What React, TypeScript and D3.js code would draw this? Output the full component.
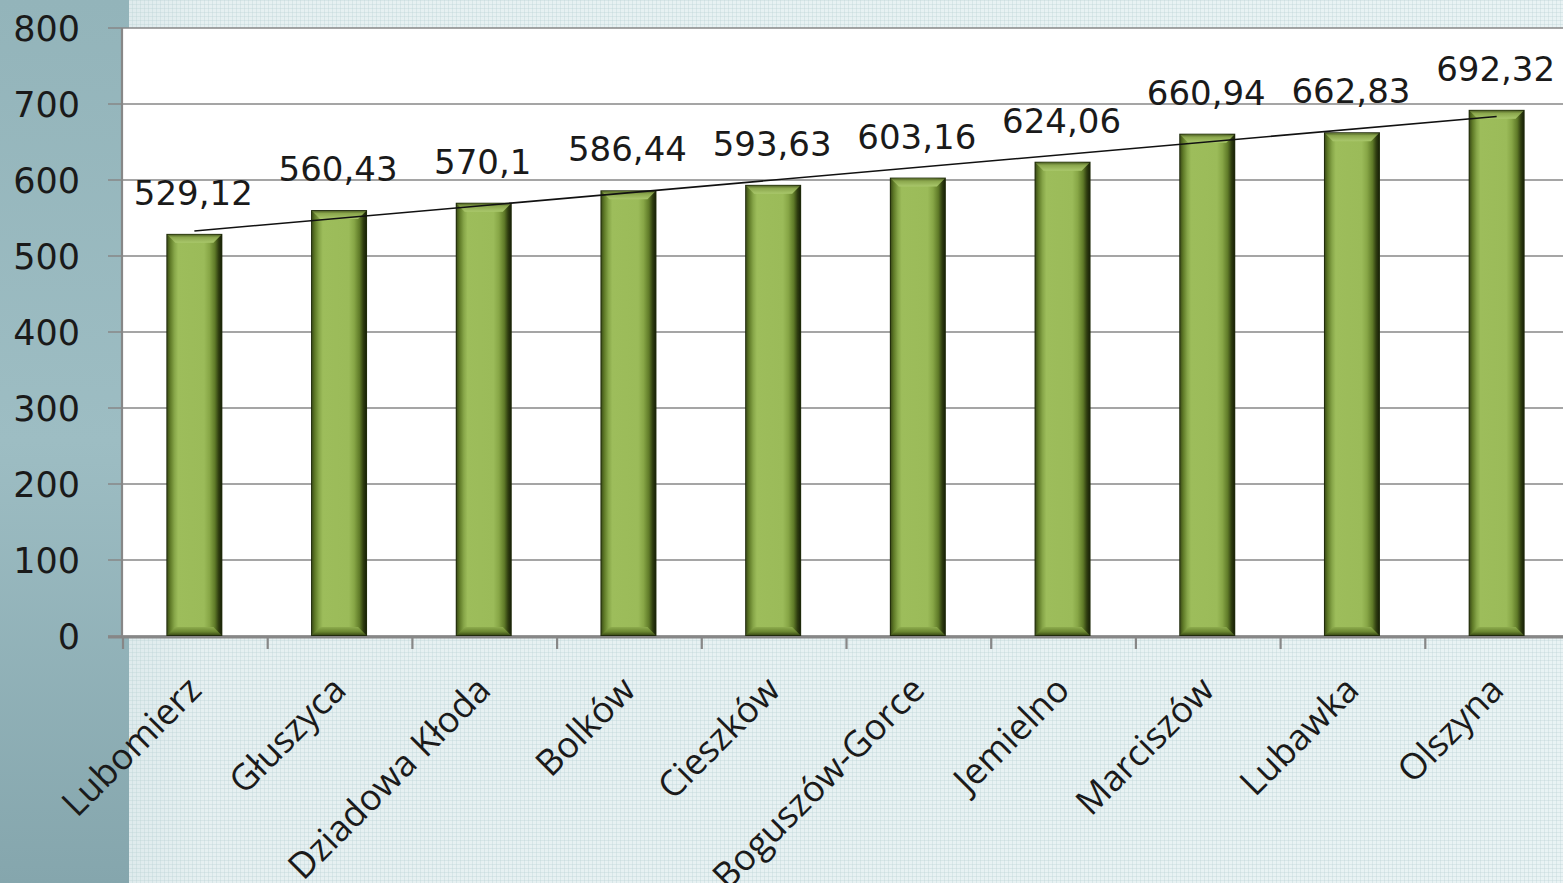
import React from "react";
import * as d3 from "d3";

const categories = ["Lubomierz", "Głuszyca", "Dziadowa Kłoda", "Bolków", "Cieszków", "Boguszów-Gorce", "Jemielno", "Marciszów", "Lubawka", "Olszyna"];
const values = [529.12, 560.43, 570.1, 586.44, 593.63, 603.16, 624.06, 660.94, 662.83, 692.32];
const valueLabels = ["529,12", "560,43", "570,1", "586,44", "593,63", "603,16", "624,06", "660,94", "662,83", "692,32"];
const yTicks = [0, 100, 200, 300, 400, 500, 600, 700, 800];

const W = 1563;
const H = 883;
const PL = 122, PR = 1569, PT = 28, PB = 636;

export default function App() {
  const x = d3.scaleBand<string>().domain(categories).range([PL, PR]).paddingInner(0.613).paddingOuter(0.3065);
  const y = d3.scaleLinear().domain([0, 800]).range([PB, PT]);
  const bw = x.bandwidth();

  // linear trend (least squares)
  const n = values.length;
  const idx = values.map((_, i) => i + 1);
  const mx = d3.mean(idx) as number;
  const my = d3.mean(values) as number;
  const slope = d3.sum(idx.map((v, i) => (v - mx) * (values[i] - my))) / d3.sum(idx.map(v => (v - mx) ** 2));
  const icpt = my - slope * mx;
  const trendPts: [number, number][] = [1, n].map(i => [
    (x(categories[i - 1]) as number) + bw / 2,
    y(icpt + slope * i),
  ]);
  const line = d3.line();

  const grid = "#878787";
  const b = 9;

  return (
    <svg width={W} height={H} style={{ position: "absolute", left: 0, top: 0, display: "block" }}>
      <defs>
        <linearGradient id="bgH" x1="0" x2="1" y1="0" y2="0">
          <stop offset="0" stopColor="#bdd4d8" />
          <stop offset="0.03" stopColor="#c9dde0" />
          <stop offset="0.065" stopColor="#dce9eb" />
          <stop offset="0.13" stopColor="#e6f0f1" />
          <stop offset="1" stopColor="#e9f3f4" />
        </linearGradient>
        <linearGradient id="leftV" x1="0" x2="0" y1="0" y2="1">
          <stop offset="0" stopColor="#93b4ba" />
          <stop offset="0.5" stopColor="#9dbdc3" />
          <stop offset="1" stopColor="#85a6ad" />
        </linearGradient>
        <pattern id="tex" width="4" height="4" patternUnits="userSpaceOnUse">
          <rect x="0" y="0" width="4" height="1" fill="#b9d0d4" opacity="0.35" />
          <rect x="0" y="0" width="1" height="4" fill="#b9d0d4" opacity="0.35" />
        </pattern>
        <linearGradient id="barH" x1="0" x2="1" y1="0" y2="0">
          <stop offset="0" stopColor="#3e4f19" />
          <stop offset="0.05" stopColor="#5d7826" />
          <stop offset="0.13" stopColor="#86a548" />
          <stop offset="0.2" stopColor="#9dbd5b" />
          <stop offset="0.68" stopColor="#9bbb59" />
          <stop offset="0.78" stopColor="#87a646" />
          <stop offset="0.88" stopColor="#5f7a28" />
          <stop offset="0.95" stopColor="#2f3d10" />
          <stop offset="1" stopColor="#1a2308" />
        </linearGradient>
        <linearGradient id="barTop" x1="0" x2="0" y1="0" y2="1">
          <stop offset="0" stopColor="#55682a" />
          <stop offset="0.3" stopColor="#8aa64c" />
          <stop offset="1" stopColor="#aac86c" />
        </linearGradient>
        <linearGradient id="barBot" x1="0" x2="0" y1="0" y2="1">
          <stop offset="0" stopColor="#8eac4e" />
          <stop offset="0.6" stopColor="#6a8630" />
          <stop offset="1" stopColor="#3f5018" />
        </linearGradient>
      </defs>

      {/* background */}
      <rect x={0} y={0} width={W} height={H} fill="url(#bgH)" />
      <rect x={128} y={0} width={W - 128} height={H} fill="url(#tex)" />
      <rect x={0} y={0} width={129} height={H} fill="url(#leftV)" />

      {/* plot area */}
      <rect x={PL} y={PT} width={W - PL} height={PB - PT} fill="#ffffff" />

      {/* gridlines */}
      {yTicks.map(t => (
        <line key={t} x1={PL - 14} x2={W} y1={y(t)} y2={y(t)} stroke={grid} strokeWidth={1.6} />
      ))}
      {/* axes */}
      <line x1={PL} x2={PL} y1={PT} y2={PB + 2} stroke={grid} strokeWidth={2.2} />
      <line x1={PL - 14} x2={W} y1={PB + 1} y2={PB + 1} stroke={grid} strokeWidth={3} />
      {categories.map((c, i) => (
        <line key={c} x1={PL + 1 + i * x.step()} x2={PL + 1 + i * x.step()} y1={PB} y2={PB + 13} stroke={grid} strokeWidth={2.2} />
      ))}

      {/* y tick labels */}
      {yTicks.map(t => (
        <text key={t} x={80} y={y(t)} dy="0.36em" textAnchor="end" fontFamily="DejaVu Sans" fontSize={35} fill="#1a1a1a">
          {t}
        </text>
      ))}

      {/* bars */}
      {categories.map((c, i) => {
        const x0 = x(c) as number;
        const x1 = x0 + bw;
        const y0 = y(values[i]);
        const y1 = y(0);
        return (
          <g key={c}>
            <rect x={x0} y={y0} width={bw} height={y1 - y0} fill="#1f2a0a" />
            <rect x={x0 + 1} y={y0 + 1} width={bw - 2} height={y1 - y0 - 2} fill="url(#barH)" />
            <polygon points={`${x0 + 1},${y0 + 1} ${x1 - 1},${y0 + 1} ${x1 - b},${y0 + b} ${x0 + b},${y0 + b}`} fill="url(#barTop)" />
            <polygon points={`${x0 + b},${y1 - b} ${x1 - b},${y1 - b} ${x1 - 1},${y1 - 1} ${x0 + 1},${y1 - 1}`} fill="url(#barBot)" />
          </g>
        );
      })}

      {/* trend line */}
      <path d={line(trendPts) || ""} stroke="#111" strokeWidth={1.6} fill="none" />

      {/* value labels */}
      {categories.map((c, i) => (
        <text key={c} x={(x(c) as number) + bw / 2 - 1} y={y(values[i]) - 29} textAnchor="middle" fontFamily="DejaVu Sans" fontSize={34} fill="#1a1a1a">
          {valueLabels[i]}
        </text>
      ))}

      {/* category labels */}
      {categories.map(c => {
        const cx = (x(c) as number) + bw / 2 + 9;
        return (
          <text key={c} transform={`translate(${cx},${692}) rotate(-45)`} textAnchor="end" fontFamily="Open Sans" fontSize={36} fill="#1a1a1a">
            {c}
          </text>
        );
      })}
    </svg>
  );
}
